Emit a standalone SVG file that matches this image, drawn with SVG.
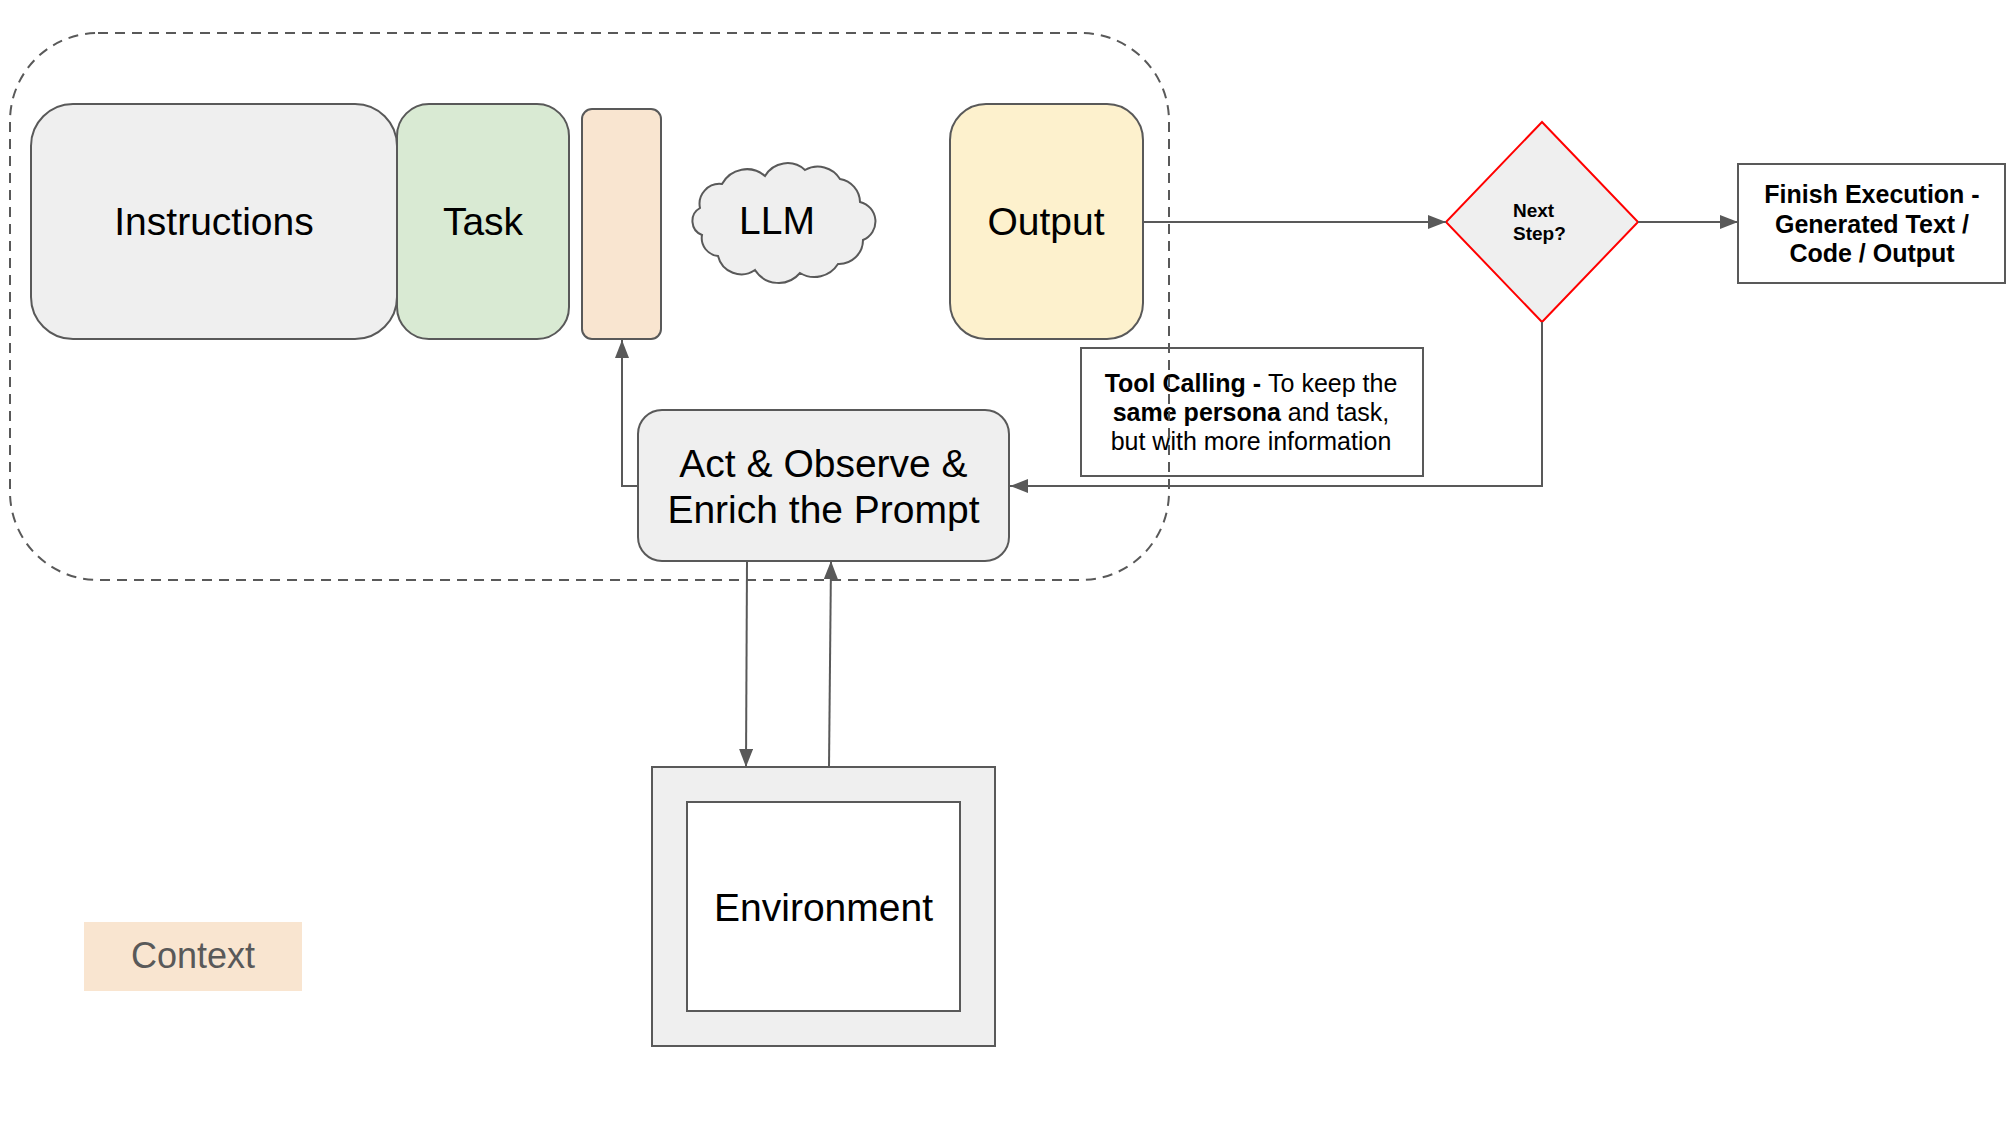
<svg xmlns="http://www.w3.org/2000/svg" width="2010" height="1134" viewBox="0 0 2010 1134">
<style>
text{font-family:"Liberation Sans",Arial,sans-serif;fill:#000}
.box{stroke:#595959;stroke-width:2}
.big{font-size:39px}
.conn{fill:none;stroke:#595959;stroke-width:2}
.b{font-weight:bold}
</style>
<defs>
<marker id="ah" markerUnits="userSpaceOnUse" markerWidth="18" markerHeight="14" refX="18" refY="7" orient="auto">
<path d="M0,0 L18,7 L0,14 z" fill="#595959"/>
</marker>
</defs>
<rect width="2010" height="1134" fill="#fff"/>
<g id="tool-note">
<rect x="1081" y="348" width="342" height="128" fill="none" class="box"/>
<text x="1251" y="392" font-size="25" text-anchor="middle"><tspan class="b">Tool Calling - </tspan>To keep the</text>
<text x="1251" y="421" font-size="25" text-anchor="middle"><tspan class="b">same persona</tspan> and task,</text>
<text x="1251" y="450" font-size="25" text-anchor="middle">but with more information</text>
</g>
<g id="container">
<rect x="10" y="33" width="1159" height="547" rx="88" ry="88" fill="none" stroke="#595959" stroke-width="2" stroke-dasharray="10 7"/>
</g>
<g id="instructions">
<rect x="31" y="104" width="366" height="235" rx="42" class="box" fill="#efefef"/>
<text x="214" y="235" class="big" text-anchor="middle">Instructions</text>
</g>
<g id="task">
<rect x="397" y="104" width="172" height="235" rx="32" class="box" fill="#d9ead3"/>
<text x="483" y="235" class="big" text-anchor="middle">Task</text>
</g>
<g id="context-strip">
<rect x="582" y="109" width="79" height="230" rx="10" class="box" fill="#f9e5d0"/>
</g>
<g id="llm">
<path d="M700,208 A20,20 0 0 1 722,184 A28,28 0 0 1 765,176 A26,26 0 0 1 805,170 A26,26 0 0 1 840,179 A24,24 0 0 1 860,202 A20,20 0 0 1 863,240 A24,24 0 0 1 838,264 A28,28 0 0 1 800,273 A28,28 0 0 1 755,270 A24,24 0 0 1 718,256 A18,18 0 0 1 702,235 A15,15 0 0 1 700,208 Z" class="box" fill="#efefef"/>
<text x="777" y="234" class="big" text-anchor="middle">LLM</text>
</g>
<g id="output">
<rect x="950" y="104" width="193" height="235" rx="36" class="box" fill="#fdf1cd"/>
<text x="1046" y="235" class="big" text-anchor="middle">Output</text>
</g>
<g id="next-step">
<polygon points="1542,122 1638,222 1542,322 1446,222" fill="#efefef" stroke="#ff0000" stroke-width="2"/>
<text x="1513" y="217" font-size="19" class="b">Next</text>
<text x="1513" y="240" font-size="19" class="b">Step?</text>
</g>
<g id="finish">
<rect x="1738" y="164" width="267" height="119" fill="#fff" class="box"/>
<text x="1872" y="203" font-size="25" class="b" text-anchor="middle">Finish Execution -</text>
<text x="1872" y="233" font-size="25" class="b" text-anchor="middle">Generated Text /</text>
<text x="1872" y="262" font-size="25" class="b" text-anchor="middle">Code / Output</text>
</g>
<g id="act">
<rect x="638" y="410" width="371" height="151" rx="24" class="box" fill="#efefef"/>
<text x="823.5" y="477" class="big" text-anchor="middle">Act &amp; Observe &amp;</text>
<text x="823.5" y="523" class="big" text-anchor="middle">Enrich the Prompt</text>
</g>
<g id="environment">
<rect x="652" y="767" width="343" height="279" class="box" fill="#efefef"/>
<rect x="687" y="802" width="273" height="209" class="box" fill="#fff"/>
<text x="823.5" y="921" class="big" text-anchor="middle">Environment</text>
</g>
<g id="context-legend">
<rect x="84" y="922" width="218" height="69" fill="#f9e5d0"/>
<text x="193" y="968" font-size="36" text-anchor="middle" style="fill:#595959">Context</text>
</g>
<g id="connectors">
<path class="conn" d="M1143,222 L1446,222" marker-end="url(#ah)"/>
<path class="conn" d="M1638,222 L1738,222" marker-end="url(#ah)"/>
<path class="conn" d="M1542,322 L1542,486 L1010,486" marker-end="url(#ah)"/>
<path class="conn" d="M638,486 L622,486 L622,340" marker-end="url(#ah)"/>
<path class="conn" d="M747,561 L746,767" marker-end="url(#ah)"/>
<path class="conn" d="M829,767 L831,561" marker-end="url(#ah)"/>
</g>
</svg>
